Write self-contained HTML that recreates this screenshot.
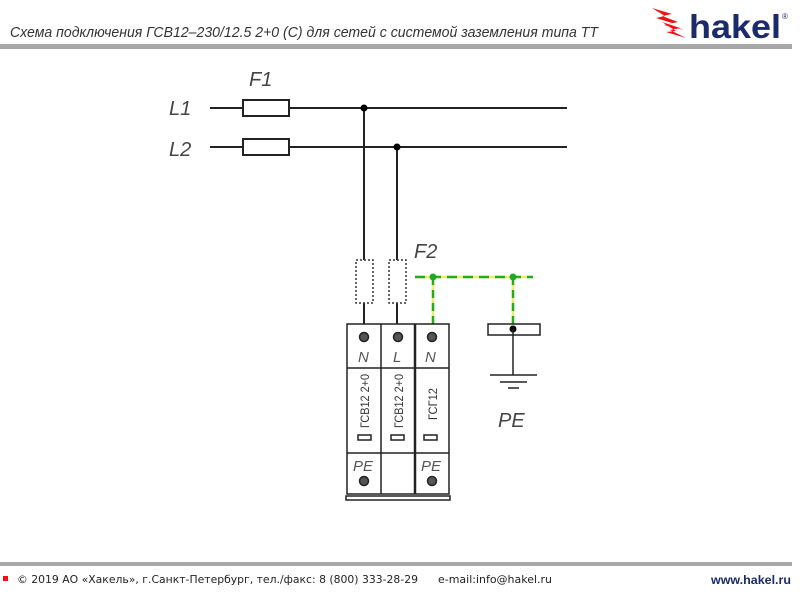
<!DOCTYPE html>
<html><head><meta charset="utf-8"><style>
html,body{margin:0;padding:0;background:#fff;width:800px;height:600px;overflow:hidden}
svg{display:block}
</style></head><body>
<svg width="800" height="600" viewBox="0 0 800 600" xmlns="http://www.w3.org/2000/svg">
<text x="10" y="37" font-family="Liberation Sans, sans-serif" font-style="italic" font-size="15" fill="#333" textLength="588" lengthAdjust="spacingAndGlyphs">Схема подключения ГСВ12–230/12.5 2+0 (С) для сетей с системой заземления типа ТТ</text>
<rect x="0" y="44" width="792" height="5" fill="#a8a8a8"/>
<g fill="#e11" >
<polygon points="652,8 672,14 662,16 678,22 668,24 684,30 664,25 672,23 656,18 665,16"/>
<polygon points="662,22 680,28 670,30 686,38 666,32 676,31"/>
</g>
<text x="689" y="38" font-family="Liberation Sans, sans-serif" font-weight="bold" font-size="33" fill="#1a2a6a" textLength="92" lengthAdjust="spacingAndGlyphs">hakel</text>
<text x="782" y="19" font-family="Liberation Sans, sans-serif" font-size="8" fill="#1a2a6a">®</text>

<g font-family="Liberation Sans, sans-serif" font-style="italic" fill="#444" font-size="20">
<text x="249" y="86">F1</text>
<text x="169" y="115">L1</text>
<text x="169" y="156">L2</text>
<text x="414" y="258">F2</text>
<text x="498" y="427">PE</text>
</g>
<g stroke="#222" stroke-width="2" fill="none">
<line x1="210" y1="108" x2="567" y2="108"/>
<line x1="210" y1="147" x2="567" y2="147"/>
<rect x="243" y="100" width="46" height="16" fill="#fff"/>
<rect x="243" y="139" width="46" height="16" fill="#fff"/>
<line x1="364" y1="108" x2="364" y2="324"/>
<line x1="397" y1="147" x2="397" y2="324"/>
</g>
<circle cx="364" cy="108" r="3.5" fill="#000"/>
<circle cx="397" cy="147" r="3.5" fill="#000"/>
<g stroke="#333" stroke-width="1.5" stroke-dasharray="2,2" fill="#fff">
<rect x="356" y="260" width="17" height="43"/>
<rect x="389" y="260" width="17" height="43"/>
</g>
<g stroke-width="2.5" fill="none">
<line x1="415" y1="277" x2="533" y2="277" stroke="#ee6"/>
<line x1="415" y1="277" x2="533" y2="277" stroke="#2a2" stroke-dasharray="10,6"/>
<line x1="433" y1="277" x2="433" y2="324" stroke="#ee6"/>
<line x1="433" y1="277" x2="433" y2="324" stroke="#2a2" stroke-dasharray="8,5"/>
<line x1="513" y1="277" x2="513" y2="324" stroke="#ee6"/>
<line x1="513" y1="277" x2="513" y2="324" stroke="#2a2" stroke-dasharray="8,5"/>
</g>
<circle cx="433" cy="277" r="3.5" fill="#2a2"/>
<circle cx="513" cy="277" r="3.5" fill="#2a2"/>
<rect x="488" y="324" width="52" height="11" fill="#fff" stroke="#222" stroke-width="1.5"/>
<circle cx="513" cy="329" r="3.5" fill="#000"/>
<g stroke="#222" stroke-width="1.5">
<line x1="513" y1="329" x2="513" y2="375"/>
<line x1="490" y1="375" x2="537" y2="375"/>
<line x1="500" y1="382" x2="527" y2="382"/>
<line x1="508" y1="388" x2="519" y2="388"/>
</g>
<g stroke="#222" stroke-width="1.5" fill="none">
<rect x="347" y="324" width="102" height="170"/>
<line x1="381" y1="324" x2="381" y2="494"/>
<line x1="415" y1="324" x2="415" y2="494" stroke-width="2.5"/>
<line x1="347" y1="368" x2="449" y2="368"/>
<line x1="347" y1="453" x2="449" y2="453"/>
<rect x="346" y="496" width="104" height="4"/>
<rect x="358" y="435" width="13" height="5"/>
<rect x="391" y="435" width="13" height="5"/>
<rect x="424" y="435" width="13" height="5"/>
</g>
<g fill="#555" stroke="#222" stroke-width="1.5">
<circle cx="364" cy="337" r="4.5"/><circle cx="398" cy="337" r="4.5"/><circle cx="432" cy="337" r="4.5"/>
<circle cx="364" cy="481" r="4.5"/><circle cx="432" cy="481" r="4.5"/>
</g>
<g font-family="Liberation Sans, sans-serif" font-style="italic" fill="#555" font-size="15">
<text x="358" y="362">N</text><text x="393" y="362">L</text><text x="425" y="362">N</text>
<text x="353" y="471">PE</text><text x="421" y="471">PE</text>
</g>
<g font-family="Liberation Sans, sans-serif" fill="#333" font-size="12">
<text transform="translate(369,428) rotate(-90)" textLength="54" lengthAdjust="spacingAndGlyphs">ГСВ12 2+0</text>
<text transform="translate(403,428) rotate(-90)" textLength="54" lengthAdjust="spacingAndGlyphs">ГСВ12 2+0</text>
<text transform="translate(437,420) rotate(-90)" textLength="32" lengthAdjust="spacingAndGlyphs">ГСГ12</text>
</g>
<rect x="0" y="562" width="792" height="4" fill="#a8a8a8"/>
<rect x="3" y="576" width="5" height="5" fill="#e11"/>
<text x="17" y="583" font-family="DejaVu Sans, sans-serif" font-size="11" fill="#222" textLength="401" lengthAdjust="spacingAndGlyphs">© 2019 АО «Хакель», г.Санкт-Петербург, тел./факс: 8 (800) 333-28-29</text>
<text x="438" y="583" font-family="DejaVu Sans, sans-serif" font-size="11" fill="#222" textLength="114" lengthAdjust="spacingAndGlyphs">e-mail:info@hakel.ru</text>
<text x="711" y="584" font-family="Liberation Sans, sans-serif" font-weight="bold" font-size="12" fill="#1a2a6a" textLength="80" lengthAdjust="spacingAndGlyphs">www.hakel.ru</text>
</svg>
</body></html>
